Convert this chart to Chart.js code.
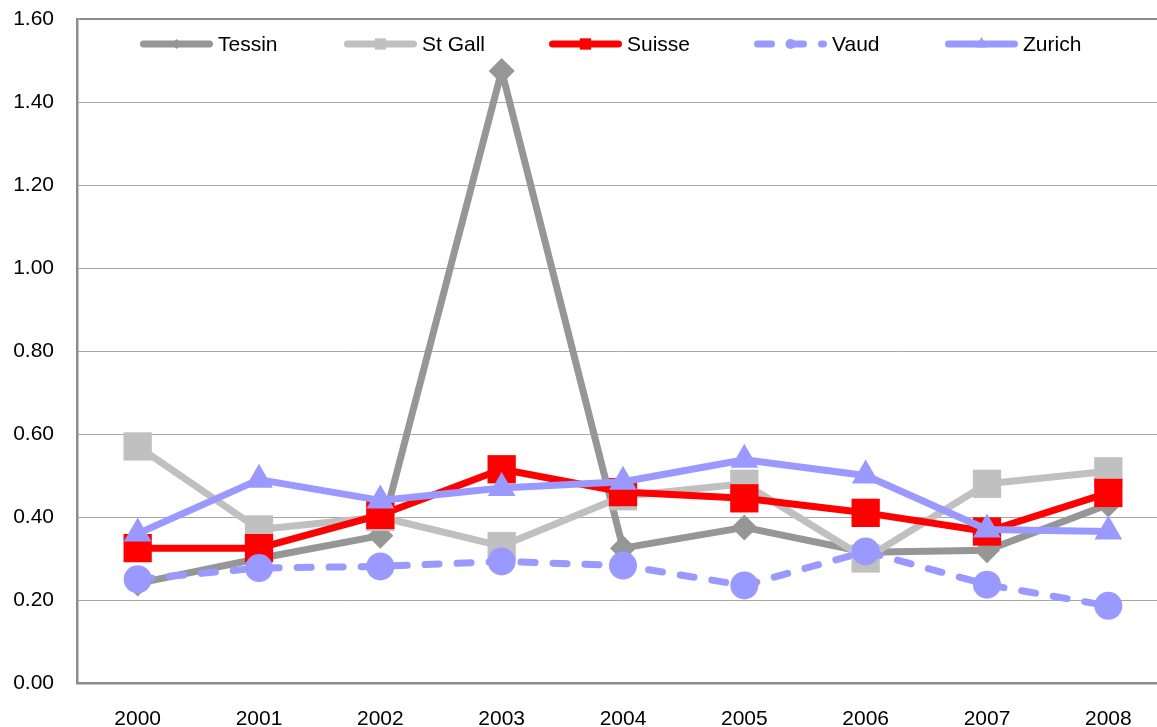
<!DOCTYPE html>
<html><head><meta charset="utf-8">
<script src="https://cdn.jsdelivr.net/npm/chart.js@4"></script>
<style>
html,body{margin:0;padding:0;overflow:hidden;background:#fff;width:1157px;height:727px}
#wrap{position:absolute;left:0;top:0;width:1169px;height:727px}
</style>
</head><body><div id="wrap"><canvas id="c" width="1169" height="727"></canvas></div>
<script>
const years = ['2000','2001','2002','2003','2004','2005','2006','2007','2008'];
const seriesNames = ['Tessin','St Gall','Suisse','Vaud','Zurich'];
const tessin = [0.24, 0.30, 0.355, 1.475, 0.325, 0.375, 0.315, 0.32, 0.43];
const stGall = [0.57, 0.37, 0.40, 0.33, 0.45, 0.48, 0.30, 0.48, 0.51];
const suisse = [0.325, 0.325, 0.405, 0.515, 0.46, 0.445, 0.41, 0.365, 0.458];
const vaud   = [0.25, 0.277, 0.281, 0.293, 0.283, 0.235, 0.317, 0.237, 0.186];
const zurich = [0.36, 0.49, 0.44, 0.47, 0.485, 0.538, 0.50, 0.37, 0.365];
const yMin = 0, yMax = 1.6, yStep = 0.2;

const FONT = 'Liberation Sans, Arial, sans-serif';
const FS = 21;
const legendX = [140, 344, 549, 754, 945];

const legendPlugin = {
  id: 'customLegend',
  afterDraw(chart) {
    const ctx = chart.ctx;
    const y = 44;
    chart.data.datasets.forEach((ds, i) => {
      const x0 = legendX[i], x1 = x0 + 73;
      ctx.save();
      ctx.strokeStyle = ds.borderColor;
      ctx.lineWidth = 7;
      ctx.lineCap = 'round';
      if (ds.borderDash) ctx.setLineDash([14, 18]);
      ctx.beginPath(); ctx.moveTo(x0 + 3.5, y); ctx.lineTo(x1 - 3.5, y); ctx.stroke();
      ctx.setLineDash([]);
      ctx.fillStyle = ds.pointBackgroundColor;
      Chart.helpers.drawPoint(ctx, {pointStyle: ds.pointStyle, radius: ds.legendRadius, rotation: 0, borderWidth: 0}, (x0 + x1) / 2, y);
      ctx.fillStyle = '#000';
      ctx.font = FS + 'px ' + FONT;
      ctx.textBaseline = 'middle';
      ctx.textAlign = 'left';
      ctx.fillText(ds.label, x1 + 5, y + 1);
      ctx.restore();
    });
  }
};

function mk(label, data, color, style, radius, legendRadius, order, dash) {
  return {
    label, data, order,
    borderColor: color, backgroundColor: color,
    pointBackgroundColor: color, pointBorderColor: color, pointBorderWidth: 0,
    pointStyle: style, pointRadius: radius, pointHoverRadius: radius,
    borderWidth: 7, tension: 0, fill: false,
    borderJoinStyle: 'round', borderCapStyle: dash ? 'round' : 'butt',
    borderDash: dash || undefined,
    legendRadius
  };
}

function zeroPad(scale) {
  scale.paddingTop = 0; scale.paddingBottom = 0;
  scale.paddingLeft = 0; scale.paddingRight = 0;
}

new Chart(document.getElementById('c'), {
  type: 'line',
  data: {
    labels: years,
    datasets: [
      mk(seriesNames[0], tessin, '#969696', 'rectRot', 13, 5, 5),
      mk(seriesNames[1], stGall, '#c0c0c0', 'rect', 20, 8, 4),
      mk(seriesNames[2], suisse, '#ff0000', 'rect', 20, 8, 3),
      mk(seriesNames[3], vaud, '#9999ff', 'circle', 14, 5, 2, [14, 18]),
      mk(seriesNames[4], zurich, '#9999ff', 'triangle', 16, 7, 1)
    ]
  },
  options: {
    responsive: false,
    animation: false,
    devicePixelRatio: 1,
    layout: {autoPadding: false, padding: {top: 19, left: 0, right: 0, bottom: 0}},
    plugins: {legend: {display: false}, tooltip: {enabled: false}},
    scales: {
      x: {
        type: 'category', offset: true,
        grid: {drawOnChartArea: false, drawTicks: false},
        border: {color: '#8c8c8c', width: 2.5},
        ticks: {font: {family: FONT, size: FS}, color: '#000', padding: 24, maxRotation: 0, autoSkip: false},
        afterFit(scale) { scale.height = 44; zeroPad(scale); }
      },
      y: {
        min: yMin, max: yMax,
        grid: {
          drawTicks: false,
          color: c => (c.tick && Math.abs(c.tick.value - yMax) < 1e-6) ? '#8c8c8c' : '#a6a6a6',
          lineWidth: c => (c.tick && Math.abs(c.tick.value - yMax) < 1e-6) ? 2 : 1
        },
        border: {color: '#8c8c8c', width: 2.5},
        ticks: {stepSize: yStep, font: {family: FONT, size: FS}, color: '#000', padding: 23,
          callback: v => Number(v).toFixed(2)},
        afterFit(scale) { scale.width = 77; zeroPad(scale); }
      }
    }
  },
  plugins: [legendPlugin]
});
</script>
</body></html>
